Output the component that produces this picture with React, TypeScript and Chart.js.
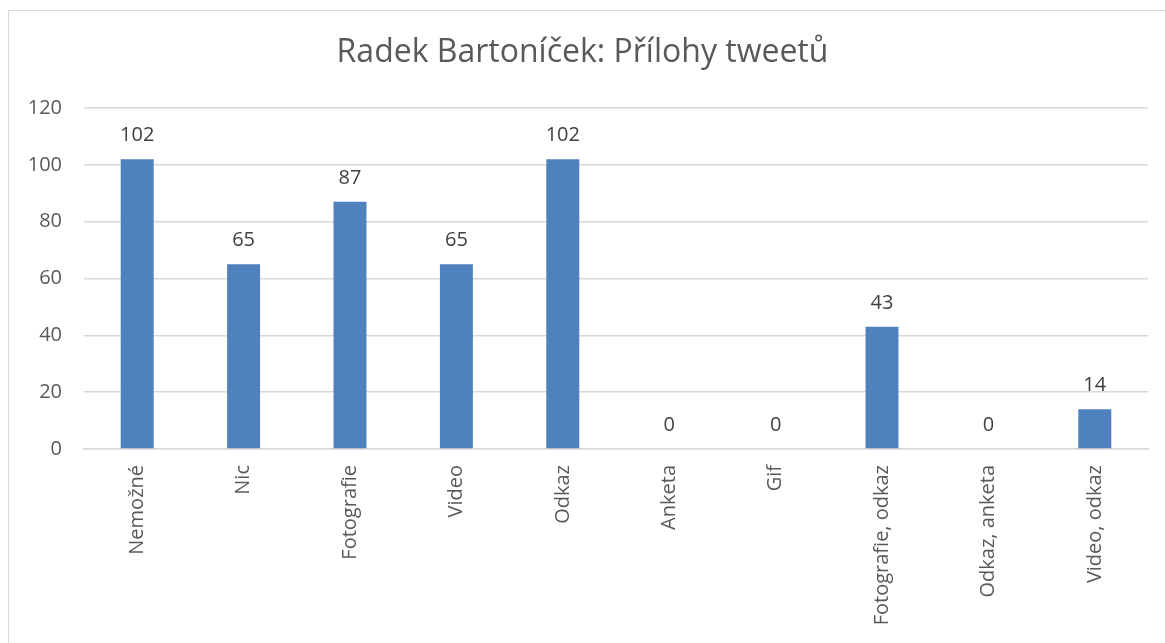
import React, { useEffect, useRef } from "react";
import { Chart, registerables } from "chart.js";

Chart.register(...registerables);

const TITLE = "Radek Bartoníček: Přílohy tweetů";
const categories = [
  "Nemožné",
  "Nic",
  "Fotografie",
  "Video",
  "Odkaz",
  "Anketa",
  "Gif",
  "Fotografie, odkaz",
  "Odkaz, anketa",
  "Video, odkaz",
];
const values = [102, 65, 87, 65, 102, 0, 0, 43, 0, 14];
const yTicks = [0, 20, 40, 60, 80, 100, 120];

const FONT = "'Open Sans', 'Liberation Sans', sans-serif";

const dataLabels = {
  id: "dataLabels",
  afterDatasetsDraw(chart: any) {
    const ctx = chart.ctx;
    const meta = chart.getDatasetMeta(0);
    ctx.save();
    ctx.font = `20px ${FONT}`;
    ctx.fillStyle = "#404040";
    ctx.textAlign = "center";
    ctx.textBaseline = "alphabetic";
    meta.data.forEach((bar: any, i: number) => {
      ctx.fillText(String(values[i]), bar.x, bar.y - 18);
    });
    ctx.restore();
  },
};

export default function App() {
  const ref = useRef<HTMLCanvasElement>(null);
  useEffect(() => {
    const chart = new Chart(ref.current!, {
      type: "bar",
      data: {
        labels: categories,
        datasets: [
          {
            data: values,
            backgroundColor: "#4F81BD",
            barPercentage: 0.31,
            categoryPercentage: 1,
          },
        ],
      },
      options: {
        animation: false,
        responsive: false,
        layout: { padding: { left: 0, right: 0, top: 0, bottom: 0 } },
        plugins: {
          legend: { display: false },
          tooltip: { enabled: false },
          title: {
            display: true,
            text: TITLE,
            color: "#595959",
            font: { family: FONT, size: 32, weight: "normal" as any, lineHeight: 1.2 },
            padding: { top: 34, bottom: 35.6 },
          },
        },
        scales: {
          x: {
            grid: { display: false, drawTicks: false },
            border: { color: "#d9d9d9", width: 1.5 },
            ticks: {
              color: "#595959",
              font: { family: FONT, size: 20 },
              minRotation: 90,
              maxRotation: 90,
              padding: 16,
              autoSkip: false,
            },
            afterFit(scale: any) {
              scale.height = 194;
            },
          },
          y: {
            min: 0,
            max: 120,
            afterBuildTicks(scale: any) {
              scale.ticks = yTicks.map((v) => ({ value: v }));
            },
            grid: { color: "#d9d9d9", lineWidth: 1.5, drawTicks: false },
            border: { display: false },
            ticks: {
              color: "#595959",
              font: { family: FONT, size: 20 },
              padding: 22,
            },
            afterFit(scale: any) {
              scale.width = 84;
            },
          },
          yRight: {
            position: "right",
            display: true,
            min: 0,
            max: 120,
            grid: { display: false, drawTicks: false },
            border: { display: false },
            ticks: { display: false },
            afterFit(scale: any) {
              scale.width = 17;
            },
          },
        },
      },
      plugins: [dataLabels],
    });
    return () => chart.destroy();
  }, []);
  return (
    <div
      style={{
        position: "absolute",
        left: 0,
        top: 0,
        width: 1165,
        height: 643,
        overflow: "hidden",
        background: "#fff",
      }}
    >
      <div
        style={{
          position: "absolute",
          left: 8,
          top: 10,
          width: 1300,
          height: 800,
          borderLeft: "1.5px solid #d9d9d9",
          borderTop: "1.5px solid #d9d9d9",
        }}
      />
      <canvas
        ref={ref}
        width={1165}
        height={643}
        style={{ position: "absolute", left: 0, top: 0 }}
      />
    </div>
  );
}
